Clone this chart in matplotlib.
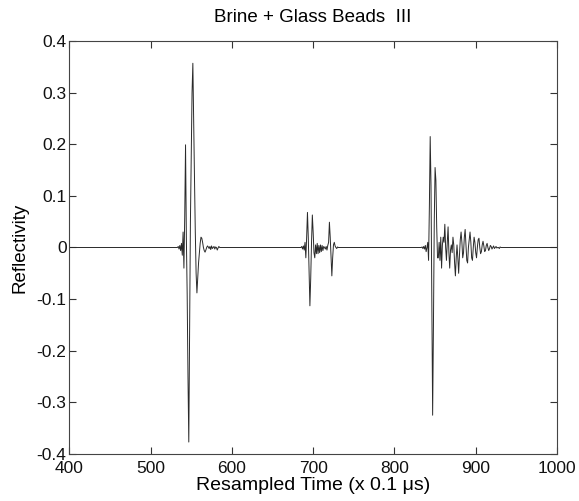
import numpy as np
import matplotlib
matplotlib.use('Agg')
import matplotlib.pyplot as plt

# time axis (resampled samples)
t_start, t_end = 400, 1000

# first reflection (top interface)
ev1_start = 534
ev1 = [0.002, -0.003, 0.004, -0.006, 0.008, -0.015, 0.03, -0.04, 0.06, 0.199,
       0.02, -0.09, -0.25, -0.377, -0.15, 0.05, 0.18, 0.30, 0.357, 0.24,
       0.135, 0.03, -0.05, -0.088, -0.06, -0.03, -0.01, 0.008, 0.02, 0.018,
       0.01, 0.0, -0.006, -0.009, -0.005, 0.0, 0.003, 0.001, -0.002, 0.002,
       -0.004, 0.003, -0.002, 0.0, 0.002, -0.003, 0.001, 0.0, -0.005, -0.001,
       0.002, 0.0]

# second reflection
ev2_start = 686
ev2 = [0.002, -0.003, 0.003, -0.005, 0.01, -0.02, 0.02, 0.068, 0.02, -0.05,
       -0.113, -0.06, 0.01, 0.063, 0.03, -0.01, -0.02, 0.005, -0.012, 0.008,
       -0.012, 0.004, -0.01, 0.005, -0.008, 0.004, -0.006, 0.002, 0.0, -0.003,
       0.002, -0.005, 0.004, 0.01, 0.049, 0.02, -0.02, -0.055, -0.02, 0.005,
       0.01, 0.003, 0.0, -0.002, 0.001, 0.0]

# third reflection (bottom, with bead reverberations)
ev3_start = 834
ev3 = [0.001, -0.002, 0.002, -0.003, 0.004, -0.008, 0.0, 0.01, -0.025, 0.08,
       0.215, 0.12, -0.1, -0.325, -0.15, 0.05, 0.155, 0.13, 0.04, -0.02,
       # 854 ->
       -0.02, 0.01, -0.025, 0.02, -0.04, 0.005, 0.02, 0.01, 0.045, 0.0,
       -0.025, 0.01, 0.04, -0.01, -0.04, -0.005, 0.005, -0.01, 0.02, 0.005,
       -0.03, -0.055, -0.02, 0.005, -0.02, -0.05, -0.015, 0.015, 0.03, 0.01,
       -0.02, -0.01, 0.02, 0.035, 0.005, -0.025, -0.03, 0.0, 0.015, 0.03,
       0.01, -0.02, -0.025, 0.0, 0.02, 0.01, -0.01, -0.02, 0.0, 0.015,
       0.018, 0.0, -0.012, -0.008, 0.005, 0.012, 0.003, -0.008, -0.006, 0.004,
       0.008, 0.0, -0.006, -0.002, 0.004, 0.002, -0.003, 0.0, 0.003, -0.002,
       0.0, 0.002, -0.001, 0.0, 0.0, -0.002, 0.001, 0.0]

xticks = [400, 500, 600, 700, 800, 900, 1000]
yticks = [-0.4, -0.3, -0.2, -0.1, 0, 0.1, 0.2, 0.3, 0.4]
ytick_labels = ['-0.4', '-0.3', '-0.2', '-0.1', '0', '0.1', '0.2', '0.3', '0.4']


def main():
    plt.rcParams['font.family'] = ['Liberation Sans', 'DejaVu Sans']

    t = np.arange(t_start, t_end + 1)
    r = np.zeros(len(t))
    for start, vals in [(ev1_start, ev1), (ev2_start, ev2), (ev3_start, ev3)]:
        i = start - t_start
        r[i:i + len(vals)] = vals

    fig = plt.figure(figsize=(5.79, 5.01), dpi=100)
    ax = fig.add_axes([0.1197, 0.094, 0.8423, 0.824])
    ax.plot(t, r, color='#2a2a2a', linewidth=0.7)

    ax.set_xlim(400, 1000)
    ax.set_ylim(-0.4, 0.4)
    ax.set_xticks(xticks)
    ax.set_yticks(yticks)
    ax.set_yticklabels(ytick_labels)
    ax.tick_params(direction='in', length=5, width=0.8, top=True, right=True,
                   labelsize=12.5, colors='#333333', labelcolor='#111111')
    ax.tick_params(axis='x', pad=5)
    ax.tick_params(axis='y', pad=2)
    for s in ax.spines.values():
        s.set_color('#444444')
        s.set_linewidth(0.8)

    ax.set_xlabel('Resampled Time (x 0.1 \u03bcs)', fontsize=14, labelpad=1)
    ax.set_ylabel('Reflectivity', fontsize=13.5, labelpad=6)
    ax.set_title('Brine + Glass Beads  III', fontsize=13.5, pad=14)

    fig.savefig('out.png', dpi=100, facecolor='white')


if __name__ == '__main__':
    main()
